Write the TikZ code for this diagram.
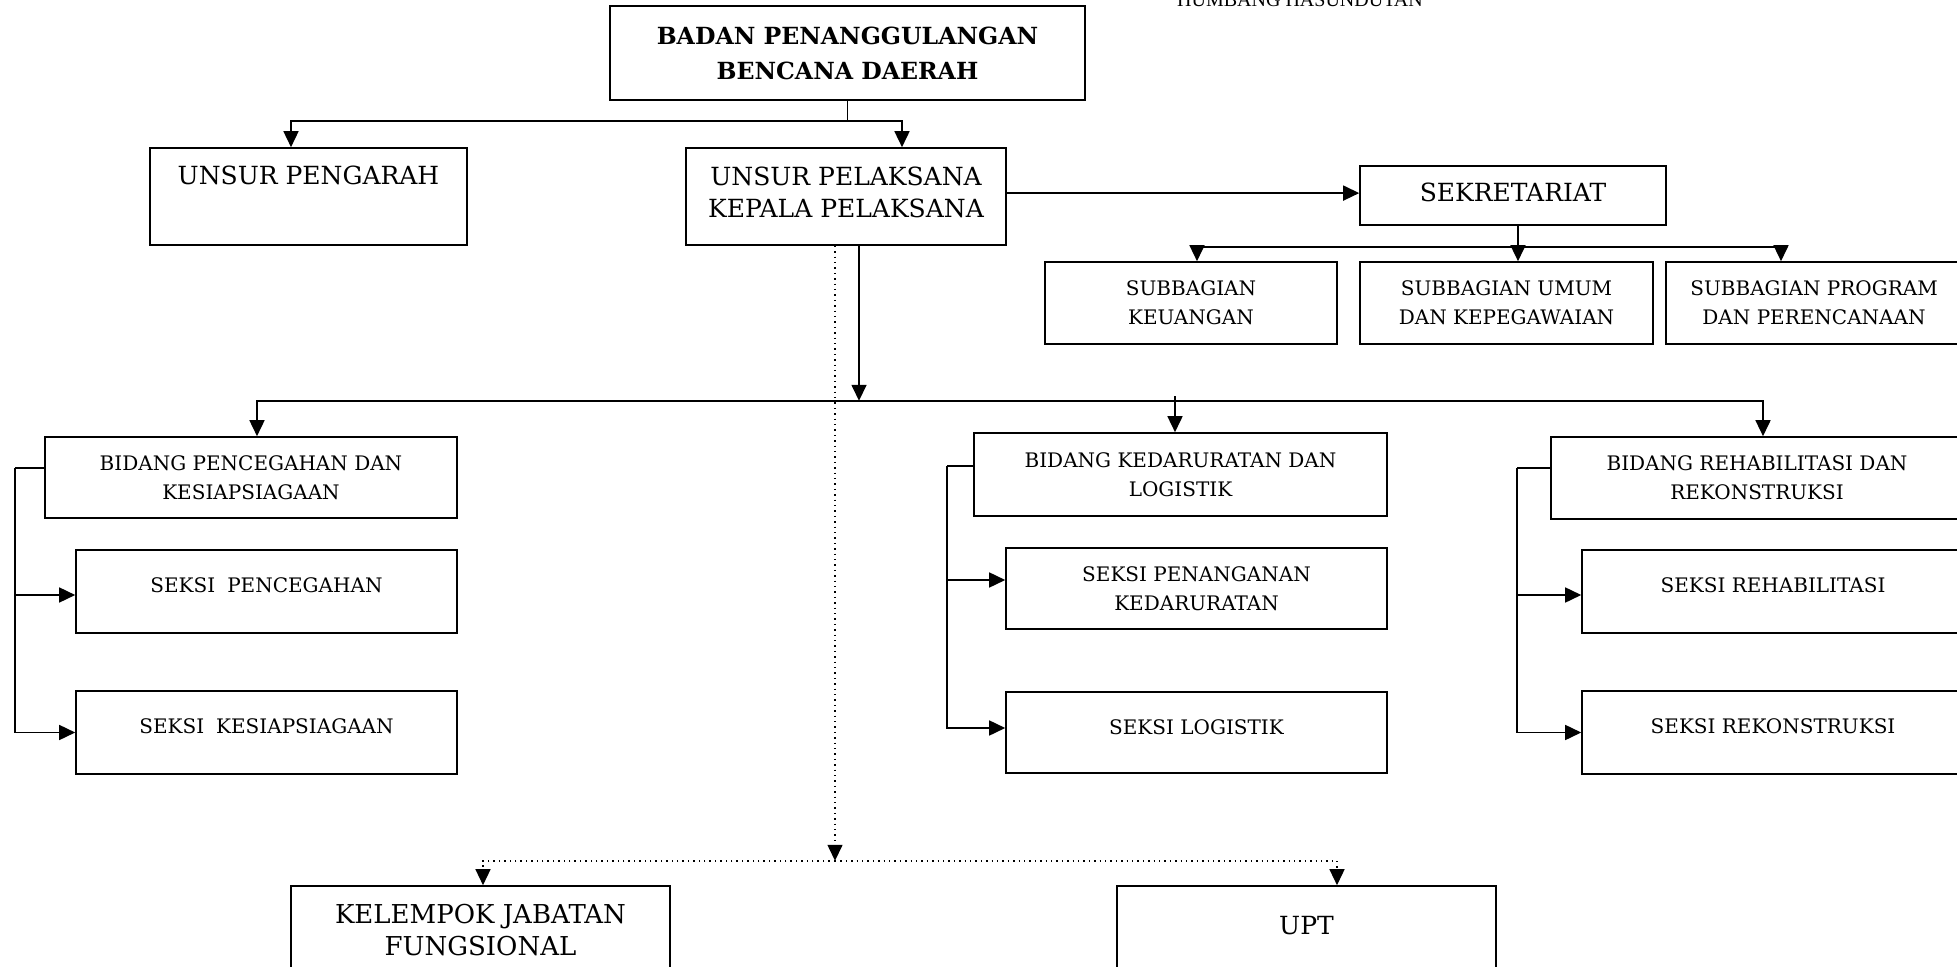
\documentclass[tikz,border=0pt]{standalone}
\usepackage{fontspec}
\setmainfont{DejaVu Serif}
\newfontfamily\hfont{Liberation Serif}
\usetikzlibrary{arrows.meta,calc}
\begin{document}
\begin{tikzpicture}[x=0.5pt,y=-0.5pt,
  box/.style={draw, line width=0.8pt, inner sep=0pt, align=center, font=\fontsize{10pt}{14.3pt}\selectfont},
  bigbox/.style={box, font=\fontsize{12.5pt}{16.2pt}\selectfont},
  titlebox/.style={box, font=\fontsize{11.8pt}{17.5pt}\selectfont\bfseries},
  conn/.style={line width=0.8pt},
  arr/.style={conn, -{Triangle[length=8pt,width=7.5pt]}},
  dotconn/.style={line width=0.7pt, dotted},
  dotarr/.style={dotconn, -{Triangle[length=8pt,width=7.5pt]}}
]
\useasboundingbox (0,0) rectangle (1957,967);

\node[font=\hfont\fontsize{10pt}{12pt}\selectfont, anchor=base, inner sep=0pt] (hum) at (1300,7) {HUMBANG HASUNDUTAN};

\node[titlebox, minimum width=237.5pt, minimum height=47pt] (bpbd) at (847.5,53) {BADAN PENANGGULANGAN\\BENCANA DAERAH};
\node[bigbox, minimum width=158.5pt, minimum height=48.5pt, text height=18.5pt, text depth=30pt] (pengarah) at (308.5,196.5) {UNSUR PENGARAH};
\node[bigbox, minimum width=160pt, minimum height=48.5pt, text depth=4pt] (pelaksana) at (846,196.5) {UNSUR PELAKSANA\\KEPALA PELAKSANA};
\node[bigbox, minimum width=153pt, minimum height=29.5pt, text depth=3pt] (sekret) at (1513,195.5) {SEKRETARIAT};

\node[box, minimum width=146pt, minimum height=41pt] (keu) at (1191,303) {SUBBAGIAN\\KEUANGAN};
\node[box, minimum width=146.5pt, minimum height=41pt] (umum) at (1506.5,303) {SUBBAGIAN UMUM\\DAN KEPEGAWAIAN};
\node[box, minimum width=148pt, minimum height=41pt] (prog) at (1814,303) {SUBBAGIAN PROGRAM\\DAN PERENCANAAN};

\node[box, minimum width=206pt, minimum height=40.5pt] (bid1) at (251,477.5) {BIDANG PENCEGAHAN DAN\\KESIAPSIAGAAN};
\node[box, minimum width=190.5pt, minimum height=41.5pt, text depth=6pt] (s11) at (266.5,591.5) {SEKSI\hspace{0.6em}PENCEGAHAN};
\node[box, minimum width=190.5pt, minimum height=41.5pt, text depth=6pt] (s12) at (266.5,732.5) {SEKSI\hspace{0.6em}KESIAPSIAGAAN};

\node[box, minimum width=206.5pt, minimum height=41.5pt] (bid2) at (1180.5,474.5) {BIDANG KEDARURATAN DAN\\LOGISTIK};
\node[box, minimum width=190.5pt, minimum height=40.5pt] (s21) at (1196.5,588.5) {SEKSI PENANGANAN\\KEDARURATAN};
\node[box, minimum width=190.5pt, minimum height=40.5pt, text depth=5pt] (s22) at (1196.5,732.5) {SEKSI LOGISTIK};

\node[box, minimum width=206pt, minimum height=41pt] (bid3) at (1757,478) {BIDANG REHABILITASI DAN\\REKONSTRUKSI};
\node[box, minimum width=191pt, minimum height=41.5pt, text depth=6pt] (s31) at (1773,591.5) {SEKSI REHABILITASI};
\node[box, minimum width=191pt, minimum height=41.5pt, text depth=6pt] (s32) at (1773,732.5) {SEKSI REKONSTRUKSI};

\node[bigbox, font=\fontsize{13pt}{16pt}\selectfont, minimum width=189.5pt, minimum height=44.5pt] (kjf) at (480.5,930.5) {KELEMPOK JABATAN\\FUNGSIONAL};
\node[bigbox, minimum width=189.5pt, minimum height=44.5pt, text depth=5.5pt] (upt) at (1306.5,930.5) {UPT};

% top connectors
\draw[conn] (bpbd.south) -- ([yshift=-10pt]bpbd.south) coordinate (j1);
\draw[arr] (j1) -| ([xshift=-8.75pt]pengarah.north);
\draw[arr] (j1) -| ([xshift=28pt]pelaksana.north);

\draw[arr] ([yshift=1.2pt]pelaksana.east |- sekret.west) -- ([yshift=1.2pt]sekret.west);

\draw[conn] ([xshift=2.5pt]sekret.south) -- ([xshift=2.5pt,yshift=-10.5pt]sekret.south) coordinate (sj);
\draw[arr] (sj) -| ([xshift=3pt]keu.north);
\draw[arr] (sj) -- (umum.north -| sj);
\draw[arr] (sj) -| ([xshift=-16.5pt]prog.north);

% main solid connector
\draw[arr] ([xshift=6.5pt]pelaksana.south) -- ([xshift=6.5pt,yshift=-77.5pt]pelaksana.south) coordinate (j2);
\draw[arr] (j2) -| ([xshift=3pt]bid1.north);
\draw[arr] (j2) -| ([xshift=3pt]bid3.north);
\draw[arr] ([xshift=-2.75pt,yshift=18pt]bid2.north) -- ([xshift=-2.75pt]bid2.north);

% dotted connector
\draw[dotarr] ([xshift=-5.5pt]pelaksana.south) -- ([xshift=-5.5pt,yshift=-307.5pt]pelaksana.south) coordinate (j3);
\draw[dotarr] (j3) -| ([xshift=1.25pt]kjf.north);
\draw[dotarr] (j3) -| ([xshift=15.25pt]upt.north);

% brackets
\draw[conn] ([yshift=4.75pt]bid1.west) -- ([xshift=-14.5pt,yshift=4.75pt]bid1.west) coordinate (k1);
\draw[arr] (k1) |- ([yshift=-1.75pt]s11.west);
\draw[arr] (k1) |- (s12.west);

\draw[conn] ([yshift=4.25pt]bid2.west) -- ([xshift=-13pt,yshift=4.25pt]bid2.west) coordinate (k2);
\draw[arr] (k2) |- ([yshift=4.25pt]s21.west);
\draw[arr] (k2) |- ([yshift=2.25pt]s22.west);

\draw[conn] ([yshift=5pt]bid3.west) -- ([xshift=-16.5pt,yshift=5pt]bid3.west) coordinate (k3);
\draw[arr] (k3) |- ([yshift=-1.75pt]s31.west);
\draw[arr] (k3) |- (s32.west);
\end{tikzpicture}
\end{document}
